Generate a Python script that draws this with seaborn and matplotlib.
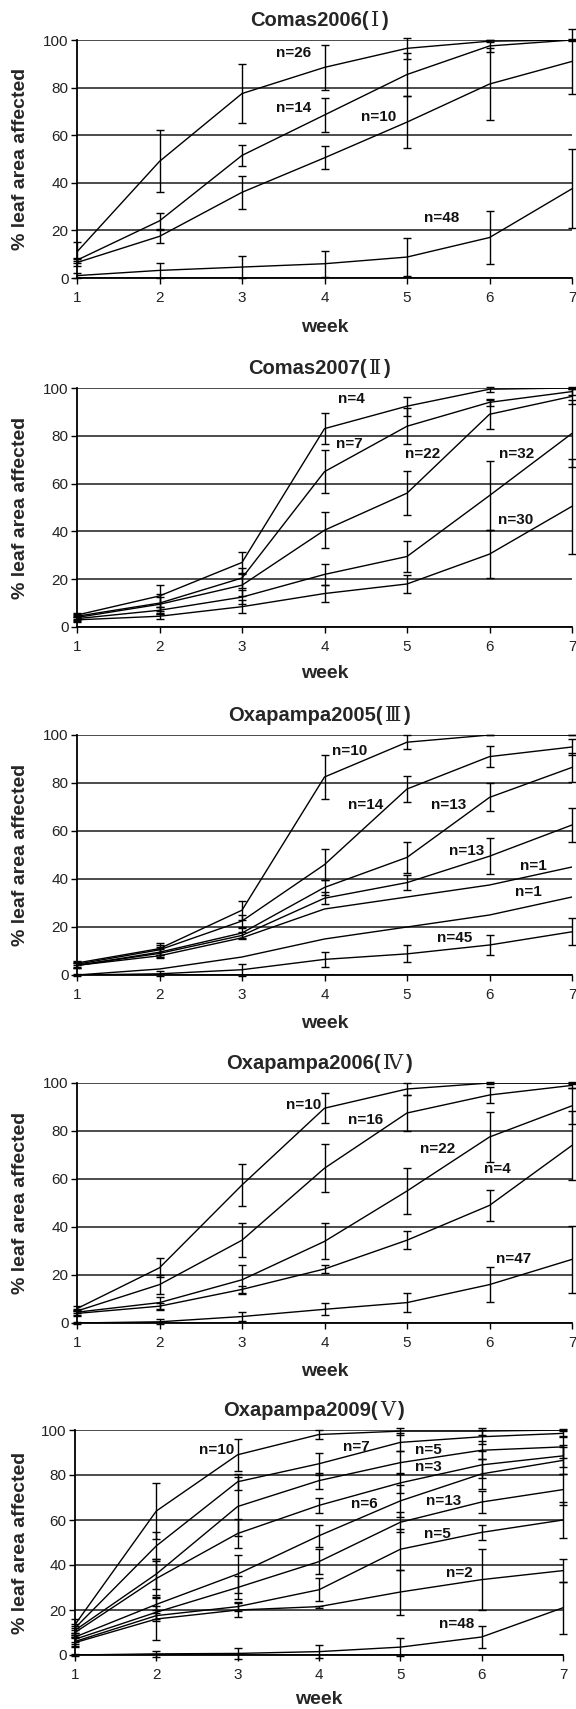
import matplotlib
matplotlib.use('Agg')
import matplotlib.pyplot as plt
from matplotlib.offsetbox import TextArea, HPacker, AnchoredOffsetbox
import numpy as np
import pandas as pd
import seaborn as sns

weeks = [1, 2, 3, 4, 5, 6, 7]

# Comas2006 (I)
comas2006_n = ['n=26', 'n=14', 'n=10', 'n=48']
comas2006_mean = [[11, 49, 77.5, 88.5, 96.5, 99.5, 100],
                  [7.5, 24, 51.5, 68.5, 85.5, 97.5, 100],
                  [6.5, 17.5, 36, 50.5, 65.5, 81.5, 91],
                  [1, 3.2, 4.6, 6, 8.8, 17, 37.5]]
comas2006_err = [[4, 13, 12.5, 9.5, 4.5, 0.5, 0],
                 [1, 3.3, 4.5, 7, 9, 2.5, 0.5],
                 [1.5, 2.8, 7, 4.8, 11, 15, 13.5],
                 [1, 3, 4.7, 5.5, 8, 11, 16.5]]

# Comas2007 (II)
comas2007_n = ['n=4', 'n=7', 'n=22', 'n=32', 'n=30']
comas2007_mean = [[5, 13, 27, 83, 92.4, 99.5, 100],
                  [4.5, 10, 20.5, 65, 84, 94, 98.5],
                  [4, 9.5, 17.5, 40.5, 56, 89, 96.5],
                  [3.5, 7, 12.5, 22, 29.5, 55, 81],
                  [3, 4.5, 8.5, 14, 18, 30.5, 50.5]]
comas2007_err = [[1, 4.5, 4.5, 6.5, 4, 1, 0.5],
                 [1, 4, 4, 9, 7.5, 1.5, 1.5],
                 [1, 3, 4.5, 7.5, 9.3, 6, 3],
                 [1, 1.5, 3, 4.5, 6.3, 14.5, 14],
                 [1, 1, 2.7, 3.5, 3.8, 10, 20]]

# Oxapampa2005 (III)
oxa2005_n = ['n=10', 'n=14', 'n=13', 'n=13', 'n=1', 'n=1', 'n=45']
oxa2005_mean = [[5, 11, 27, 82.5, 97, 100, 100],
                [4.5, 10.5, 22.5, 46, 77.5, 91, 95],
                [4, 9.5, 17.5, 36.5, 49, 74, 86.5],
                [4, 9, 16.5, 32, 38.5, 49.5, 62.5],
                [4, 8, 15.5, 27.5, 32.5, 37.5, 45],
                [0, 2.5, 7.5, 15, 20, 25, 32.5],
                [0, 0.5, 2.2, 6.5, 8.8, 12.5, 18]]
oxa2005_err = [[1, 2.5, 4, 9, 3, 0, 0],
               [1, 2, 2.5, 6.5, 5.3, 4.5, 3.5],
               [1, 2, 2, 3, 6.5, 5.8, 6],
               [1, 2, 1.5, 2.5, 3, 7.5, 7],
               None,
               None,
               [0.5, 1, 2.5, 3.2, 3.5, 4.3, 5.7]]

# Oxapampa2006 (IV)
oxa2006_n = ['n=10', 'n=16', 'n=22', 'n=4', 'n=47']
oxa2006_mean = [[6, 23, 57.5, 89.5, 97.5, 100, 100],
                [5, 16, 34.5, 64.5, 87.5, 95, 99],
                [4.5, 8.5, 18, 34, 55, 77.5, 90.5],
                [4, 7, 14, 22.5, 34.5, 49, 74],
                [0, 0.5, 2.7, 5.7, 8.5, 16, 26.5]]
oxa2006_err = [[1, 4, 8.7, 6.3, 2.5, 0.5, 0.5],
               [1, 4, 7, 10, 7.5, 3.5, 1],
               [1, 2.5, 6, 7.5, 9.5, 10.5, 7.5],
               [1, 1.5, 1.5, 1.8, 3.7, 6.5, 14.5],
               [0.5, 1, 2, 2.5, 4, 7.2, 14]]

# Oxapampa2009 (V)
oxa2009_n = ['n=10', 'n=7', 'n=5', 'n=3', 'n=6', 'n=13', 'n=5', 'n=2', 'n=48']
oxa2009_mean = [[13.5, 64, 89, 98, 99.5, 99.5, 100],
                [12, 48.5, 77, 85, 94.5, 97, 98.5],
                [11, 36, 66, 77.5, 85.5, 91, 92.5],
                [10, 34, 54, 66.5, 76.5, 84.5, 88.5],
                [8, 22.5, 36, 53, 68.5, 80.5, 86.5],
                [7, 19, 30, 41.5, 59, 68, 73.5],
                [6, 17.5, 21.5, 29, 47, 54.5, 60],
                [5.5, 16, 20, 21.5, 28, 33.5, 37.5],
                [0, 0.5, 0.7, 1.5, 3.5, 8, 21]]
oxa2009_err = [[2.5, 12.5, 7, 2, 1.5, 1.5, 0.5],
               [2, 6, 3.5, 5, 4, 3, 1.5],
               [2, 6.5, 13, 3.5, 5, 4, 5],
               [2, 8, 6.5, 3.5, 4.5, 6, 5],
               [2, 4, 8.5, 5, 7, 6.5, 6],
               [2, 3, 5, 5.5, 4.5, 5, 7],
               [2, 2.5, 2, 5.2, 9, 3.3, 8],
               [2, 9.5, 3, 0.5, 10, 13.5, 5],
               [0.5, 1.5, 2.5, 3, 4, 5, 11.5]]

site_names = ['Comas2006', 'Comas2007', 'Oxapampa2005', 'Oxapampa2006', 'Oxapampa2009']
roman = ['\u2160', '\u2161', '\u2162', '\u2163', '\u2164']

# where the n= labels sit (week, %)
label_pos = [
    [(3.63, 94.7), (3.63, 71.6), (4.66, 67.8), (5.42, 25.2)],
    [(4.33, 95.5), (4.30, 76.4), (5.19, 72.3), (6.33, 72.3), (6.32, 44.8)],
    [(4.30, 93.5), (4.50, 70.9), (5.50, 70.9), (5.72, 51.5), (6.53, 45.6), (6.47, 34.5), (5.58, 15.4)],
    [(3.75, 90.7), (4.50, 84.5), (5.37, 72.7), (6.09, 64.1), (6.29, 26.6)],
    [(2.74, 91.0), (4.46, 92.4), (5.35, 91.0), (5.35, 83.4), (4.56, 67.0), (5.53, 68.5),
     (5.46, 53.9), (5.73, 36.4), (5.69, 13.6)],
]

panels = [(comas2006_n, comas2006_mean, comas2006_err),
          (comas2007_n, comas2007_mean, comas2007_err),
          (oxa2005_n, oxa2005_mean, oxa2005_err),
          (oxa2006_n, oxa2006_mean, oxa2006_err),
          (oxa2009_n, oxa2009_mean, oxa2009_err)]

sns.set_theme(style='white')
plt.rcParams['font.family'] = ['Liberation Sans', 'Noto Sans CJK JP', 'DejaVu Sans']

W, H = 576, 1709
fig = plt.figure(figsize=(W / 100, H / 100), dpi=100)

# axes boxes in pixels: left, right, top, bottom ; and distance to "week"
boxes = [(77, 572, 40, 278), (77, 572, 388, 627), (77, 572, 735, 975),
         (77, 572, 1083, 1323), (75, 563, 1430, 1655)]
week_gap = [50, 47, 48, 49, 45]

for k, ((names, means, errs), box) in enumerate(zip(panels, boxes)):
    l, r, t, b = box
    ax = fig.add_axes([l / W, 1 - b / H, (r - l) / W, (b - t) / H])
    rows = []
    for i, m in enumerate(means):
        for w, v in zip(weeks, m):
            rows.append({'week': w, 'pct': v, 'series': i})
    df = pd.DataFrame(rows)
    sns.lineplot(data=df, x='week', y='pct', units='series', estimator=None,
                 color='black', lw=1.0, ax=ax, legend=False)
    for m, e in zip(means, errs):
        if e is None:
            continue
        ax.errorbar(weeks, m, yerr=e, fmt='none', ecolor='black', elinewidth=1.0,
                    capsize=2.6, capthick=1.0, clip_on=False, zorder=3)
    for name, (x, y) in zip(names, label_pos[k]):
        ax.text(x, y, name, ha='center', va='center', fontsize=11, fontweight='bold',
                color='#111111')

    ax.set_xlim(1, 7)
    ax.set_ylim(0, 100)
    ax.set_xticks(weeks)
    ax.set_yticks([0, 20, 40, 60, 80, 100])
    ax.yaxis.grid(True, color='#1a1a1a', lw=1.1)
    ax.xaxis.grid(False)
    ax.set_axisbelow(True)
    for s in ['top', 'right']:
        ax.spines[s].set_visible(False)
    for s in ['left', 'bottom']:
        ax.spines[s].set_color('black')
        ax.spines[s].set_linewidth(1.3)
    ax.tick_params(axis='both', direction='out', length=4, width=1, color='black',
                   labelsize=11, labelcolor='#222222', left=True, bottom=True)
    ax.tick_params(axis='x', pad=5.5)
    ax.tick_params(axis='y', pad=2)

    # title: bold sans text with a serif roman numeral
    parts = [TextArea(site_names[k] + '(', textprops=dict(fontsize=14.5, fontweight='bold',
                                                          family='Liberation Sans')),
             TextArea(roman[k], textprops=dict(fontsize=15,
                                               family=['Liberation Serif', 'DejaVu Serif',
                                                       'Noto Sans CJK JP'])),
             TextArea(')', textprops=dict(fontsize=14.5, fontweight='bold',
                                          family='Liberation Sans'))]
    pack = HPacker(children=parts, align='baseline', pad=0, sep=2)
    anch = AnchoredOffsetbox(loc='lower center', child=pack, pad=0, borderpad=0,
                             frameon=False, bbox_to_anchor=(0.49, 1 + 9 / (b - t)),
                             bbox_transform=ax.transAxes)
    ax.add_artist(anch)

    ax.set_ylabel('% leaf area affected', fontsize=14, fontweight='bold', va='center')
    ax.set_xlabel('week', fontsize=14, fontweight='bold', va='center')
    ax.yaxis.set_label_coords(-(l - 21) / (r - l), 0.5)
    ax.xaxis.set_label_coords(0.5, -week_gap[k] / (b - t))

fig.savefig('out.png', dpi=100)
